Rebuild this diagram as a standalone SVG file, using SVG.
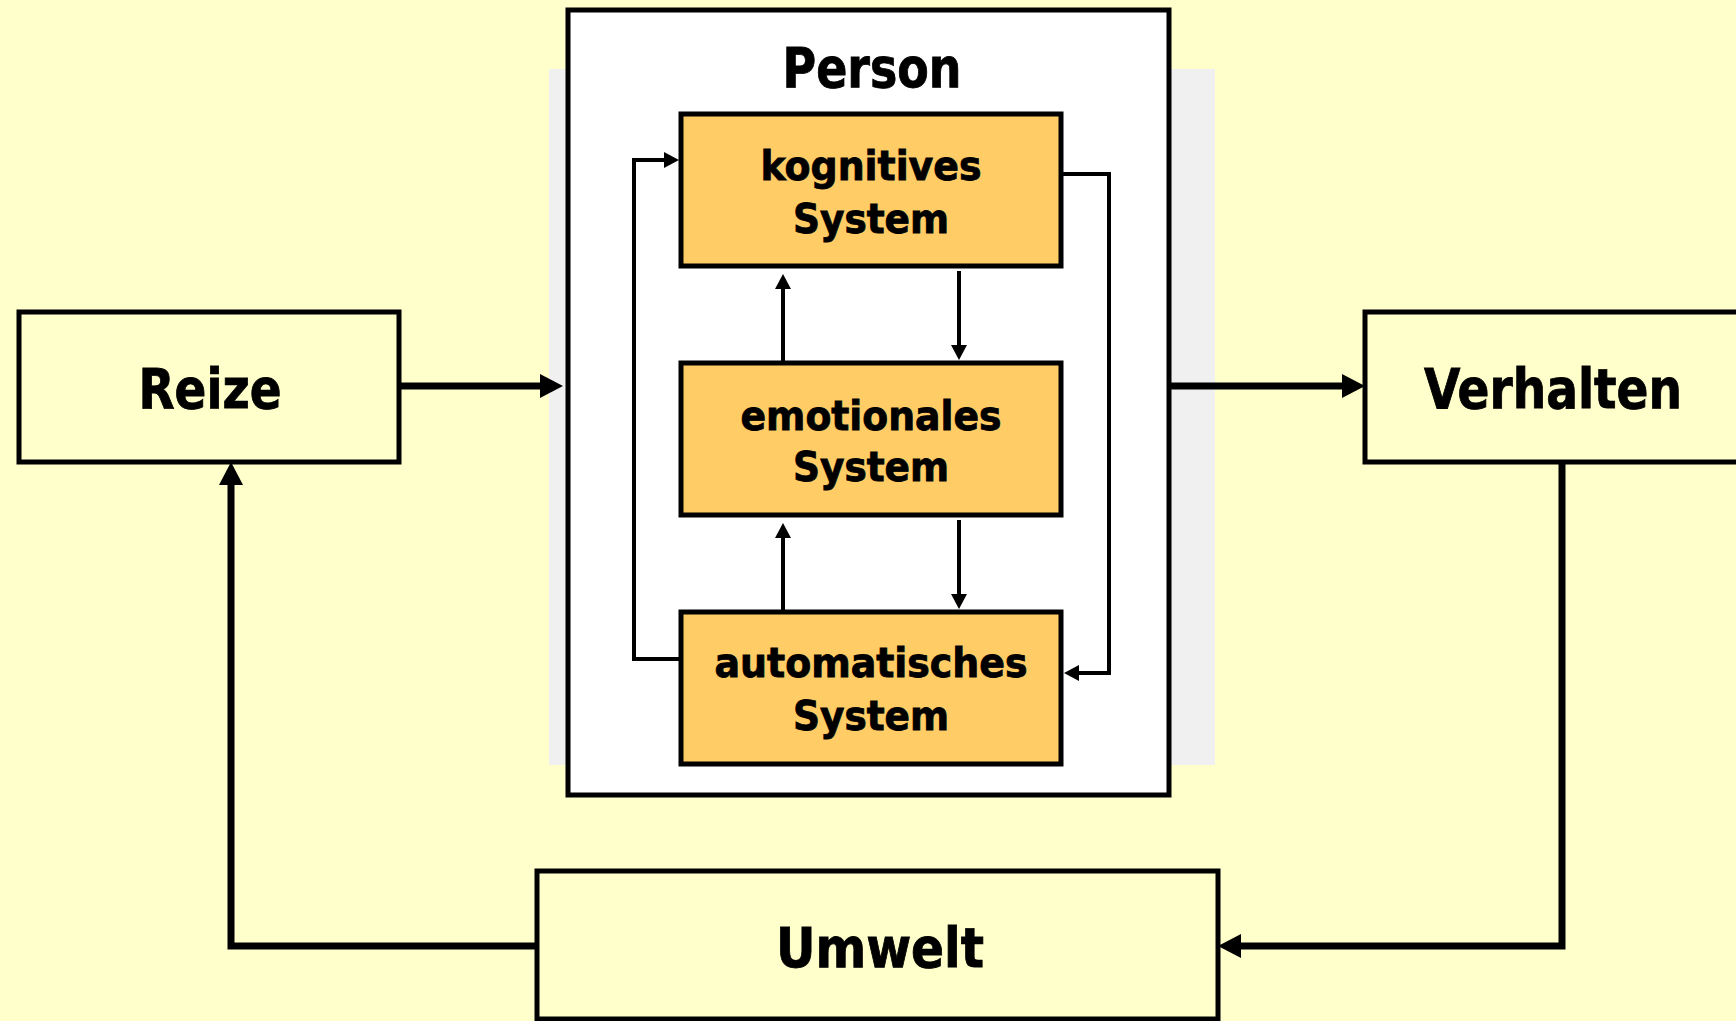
<svg xmlns="http://www.w3.org/2000/svg" width="1736" height="1021" viewBox="0 0 1736 1021">
<style>
.box{stroke:#000;stroke-width:5}
.outer{fill:#FFFFCC}
.inner{fill:#FFCC66}
.t{font-family:"DejaVu Sans Condensed","DejaVu Sans",Verdana,sans-serif;font-weight:bold;fill:#000;stroke:#000;stroke-width:0.8;text-anchor:middle}
.big{font-size:56px}
.small{font-size:41px}
.thick{fill:none;stroke:#000;stroke-width:7;stroke-linejoin:miter}
.thin{fill:none;stroke:#000;stroke-width:4;stroke-linejoin:miter}
</style>
<defs>
<marker id="ah" markerUnits="userSpaceOnUse" markerWidth="24" markerHeight="26" refX="0" refY="12" orient="auto" overflow="visible">
<path d="M0,0 L23,12 L0,24 z" fill="#000"/>
</marker>
<marker id="ahs" markerUnits="userSpaceOnUse" markerWidth="16" markerHeight="18" refX="0" refY="8" orient="auto" overflow="visible">
<path d="M0,0 L15,8 L0,16 z" fill="#000"/>
</marker>
</defs>
<rect x="0" y="0" width="1736" height="1021" fill="#FFFFCC"/>
<rect x="549" y="69" width="666" height="696" fill="#F0F0F0"/>

<g id="person">
<rect class="box" x="568" y="10" width="601" height="785" fill="#FFFFFF"/>
<text class="t big" x="872" y="87" textLength="179" lengthAdjust="spacingAndGlyphs">Person</text>
</g>

<g id="kognitives">
<rect class="box inner" x="681" y="114" width="380" height="152"/>
<text class="t small" x="871" y="180" textLength="221" lengthAdjust="spacingAndGlyphs">kognitives</text>
<text class="t small" x="871" y="233" textLength="156" lengthAdjust="spacingAndGlyphs">System</text>
</g>

<g id="emotionales">
<rect class="box inner" x="681" y="363" width="380" height="152"/>
<text class="t small" x="871" y="430" textLength="261" lengthAdjust="spacingAndGlyphs">emotionales</text>
<text class="t small" x="871" y="481" textLength="156" lengthAdjust="spacingAndGlyphs">System</text>
</g>

<g id="automatisches">
<rect class="box inner" x="681" y="612" width="380" height="152"/>
<text class="t small" x="871" y="677" textLength="313" lengthAdjust="spacingAndGlyphs">automatisches</text>
<text class="t small" x="871" y="730" textLength="156" lengthAdjust="spacingAndGlyphs">System</text>
</g>

<g id="reize">
<rect class="box outer" x="19" y="312" width="380" height="150"/>
<text class="t big" x="210" y="408" textLength="143" lengthAdjust="spacingAndGlyphs">Reize</text>
</g>

<g id="verhalten">
<rect class="box outer" x="1365" y="312" width="380" height="150"/>
<text class="t big" x="1553" y="408" textLength="258" lengthAdjust="spacingAndGlyphs">Verhalten</text>
</g>

<g id="umwelt">
<rect class="box outer" x="537" y="871" width="681" height="148"/>
<text class="t big" x="880" y="967" textLength="208" lengthAdjust="spacingAndGlyphs">Umwelt</text>
</g>

<g id="connectors">
<path class="thick" d="M399,386 H540" marker-end="url(#ah)"/>
<path class="thick" d="M1169,386 H1342" marker-end="url(#ah)"/>
<path class="thick" d="M1562,462 V946 H1241" marker-end="url(#ah)"/>
<path class="thick" d="M537,946 H231 V485" marker-end="url(#ah)"/>
<path class="thin" d="M959,271 V345" marker-end="url(#ahs)"/>
<path class="thin" d="M783,363 V289" marker-end="url(#ahs)"/>
<path class="thin" d="M959,520 V594" marker-end="url(#ahs)"/>
<path class="thin" d="M783,612 V538" marker-end="url(#ahs)"/>
<path class="thin" d="M681,659 H634 V160 H664" marker-end="url(#ahs)"/>
<path class="thin" d="M1061,174 H1109 V673 H1079" marker-end="url(#ahs)"/>
</g>
</svg>
